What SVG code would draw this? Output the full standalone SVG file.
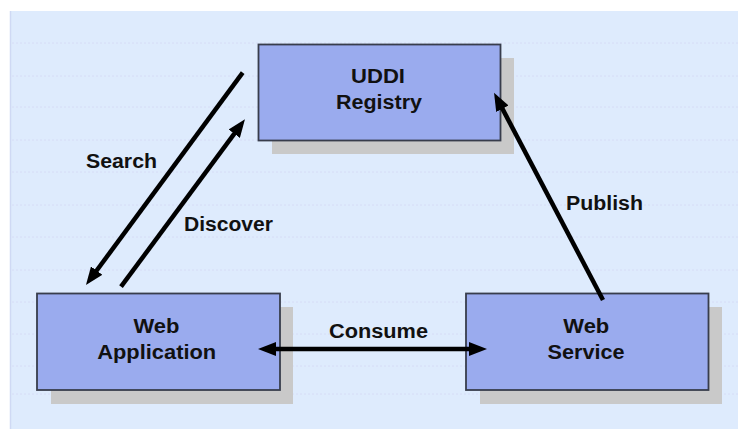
<svg xmlns="http://www.w3.org/2000/svg" width="738" height="429" viewBox="0 0 738 429">
  <style>
    .bg { fill: #deebfd; }
    .edge { stroke: #cfd9f4; stroke-width: 1.5; }
    .grid line { stroke: #d6dcf6; stroke-width: 1; stroke-dasharray: 2 2; }
    .shadow { fill: #c9c9c9; }
    .box { fill: #9aabee; stroke: #383d4c; stroke-width: 1.8; }
    .lbl { font-family: "Liberation Sans", Arial, sans-serif; font-weight: bold; font-size: 20px; fill: #111; }
    .mid { text-anchor: middle; }
    .conn line { stroke: #000; stroke-width: 4.5; fill: none; }
  </style>
  <defs>
    <marker id="head" markerUnits="userSpaceOnUse" markerWidth="18" markerHeight="14" refX="8" refY="7" orient="auto-start-reverse" viewBox="0 0 18 14">
      <path d="M0,0 L18,7 L0,14 z" fill="#000"/>
    </marker>
  </defs>

  <!-- backdrop -->
  <rect x="0" y="0" width="738" height="429" fill="#ffffff"/>
  <rect class="bg" x="10" y="11" width="728" height="418"/>
  <line class="edge" x1="10.5" y1="11" x2="10.5" y2="429"/>
  <g class="grid">
    <line x1="12" y1="43" x2="738" y2="43"/>
    <line x1="12" y1="76" x2="738" y2="76"/>
    <line x1="12" y1="107" x2="738" y2="107"/>
    <line x1="12" y1="140" x2="738" y2="140"/>
    <line x1="12" y1="172" x2="738" y2="172"/>
    <line x1="12" y1="205" x2="738" y2="205"/>
    <line x1="12" y1="237" x2="738" y2="237"/>
    <line x1="12" y1="270" x2="738" y2="270"/>
    <line x1="12" y1="302" x2="738" y2="302"/>
    <line x1="12" y1="334" x2="738" y2="334"/>
    <line x1="12" y1="366" x2="738" y2="366"/>
    <line x1="12" y1="394" x2="738" y2="394"/>
  </g>

  <g id="uddi-registry">
    <rect class="shadow" x="272" y="58" width="242" height="96"/>
    <rect class="box" x="258.5" y="44.5" width="242" height="96"/>
    <text class="lbl mid" x="378" y="83" textLength="54" lengthAdjust="spacingAndGlyphs">UDDI</text>
    <text class="lbl mid" x="379" y="109" textLength="86" lengthAdjust="spacingAndGlyphs">Registry</text>
  </g>

  <g id="web-application">
    <rect class="shadow" x="51" y="307" width="242" height="97"/>
    <rect class="box" x="37" y="293.5" width="243" height="96.5"/>
    <text class="lbl mid" x="156.5" y="333" textLength="46" lengthAdjust="spacingAndGlyphs">Web</text>
    <text class="lbl mid" x="156.7" y="359" textLength="119" lengthAdjust="spacingAndGlyphs">Application</text>
  </g>

  <g id="web-service">
    <rect class="shadow" x="480" y="307" width="242" height="97"/>
    <rect class="box" x="466" y="293.5" width="242.5" height="96.5"/>
    <text class="lbl mid" x="586.3" y="333" textLength="46" lengthAdjust="spacingAndGlyphs">Web</text>
    <text class="lbl mid" x="586" y="359" textLength="77" lengthAdjust="spacingAndGlyphs">Service</text>
  </g>

  <g class="conn" id="connectors">
    <line x1="242.7" y1="72.7" x2="91.9" y2="277" marker-end="url(#head)"/>
    <line x1="121" y1="286.7" x2="239" y2="127.3" marker-end="url(#head)"/>
    <line x1="603" y1="300" x2="498.7" y2="101.6" marker-end="url(#head)"/>
    <line x1="268" y1="349" x2="477" y2="349" marker-start="url(#head)" marker-end="url(#head)"/>
  </g>

  <g id="labels">
    <text class="lbl" x="86" y="168" textLength="71" lengthAdjust="spacingAndGlyphs">Search</text>
    <text class="lbl" x="184" y="231" textLength="89" lengthAdjust="spacingAndGlyphs">Discover</text>
    <text class="lbl" x="566" y="210" textLength="77" lengthAdjust="spacingAndGlyphs">Publish</text>
    <text class="lbl" x="329" y="338" textLength="99" lengthAdjust="spacingAndGlyphs">Consume</text>
  </g>
</svg>
